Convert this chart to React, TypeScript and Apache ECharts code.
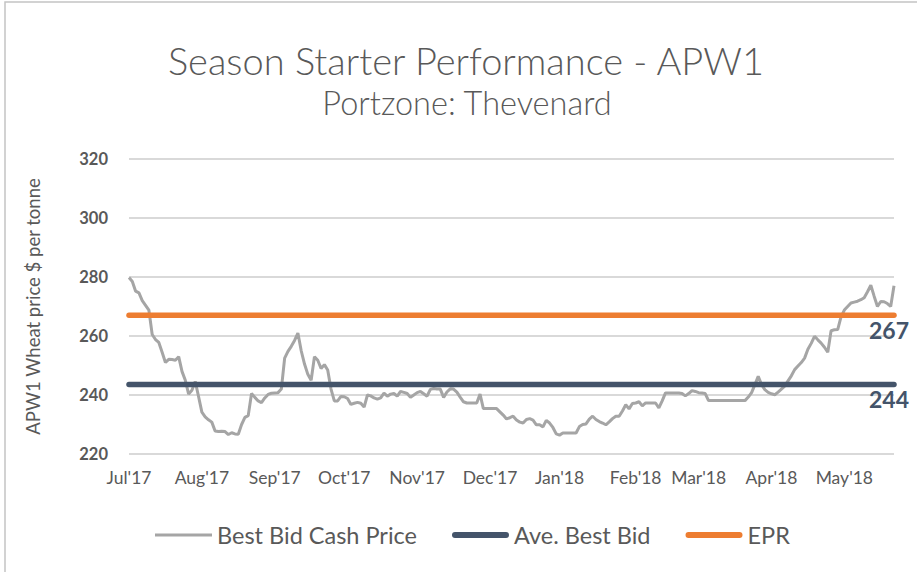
import React, { useEffect, useRef } from "react";
import * as echarts from "echarts";

const titleText = "Season Starter Performance - APW1";
const subtitleText = "Portzone: Thevenard";
const yAxisName = "APW1 Wheat price $ per tonne";

const monthLabels = ["Jul'17", "Aug'17", "Sep'17", "Oct'17", "Nov'17", "Dec'17", "Jan'18", "Feb'18", "Mar'18", "Apr'18", "May'18"];
const monthIndex = [0, 22, 44, 65, 87, 109, 130, 153, 172, 194, 216];

const bestBid = [
  279.8, 278.5, 275.2, 274.6, 272.0, 270.4, 268.8, 260.5, 258.8, 257.8,
  254.5, 251.0, 252.1, 252.0, 251.8, 253.0, 248.0, 245.0, 240.3, 241.6,
  244.6, 239.5, 234.2, 232.6, 231.6, 230.8, 227.8, 227.6, 227.7, 227.6,
  226.6, 227.2, 226.8, 226.7, 230.0, 232.4, 233.0, 240.5, 239.2, 238.0,
  237.4, 239.0, 240.2, 240.6, 240.7, 240.8, 242.0, 252.5, 254.8, 256.5,
  258.5, 261.0, 255.0, 250.5, 247.0, 245.0, 253.0, 251.8, 249.0, 250.3,
  248.5, 242.0, 238.0, 238.0, 239.5, 239.4, 238.8, 236.8, 237.2, 237.5,
  237.2, 235.9, 240.0, 239.7, 239.0, 238.6, 239.0, 240.6, 239.6, 240.3,
  240.5, 239.6, 241.2, 240.9, 240.5, 239.2, 240.0, 240.8, 241.2, 240.4,
  239.6, 241.9, 242.2, 242.0, 242.0, 239.2, 241.0, 242.1, 242.0, 241.0,
  239.3, 237.7, 237.3, 237.3, 237.3, 237.3, 240.3, 235.4, 235.4, 235.4,
  235.4, 235.4, 234.3, 233.2, 231.9, 232.3, 232.8, 231.5, 230.8, 230.5,
  231.7, 232.0, 231.5, 229.9, 229.9, 229.2, 231.4, 230.5, 229.0, 226.8,
  226.4, 227.1, 227.1, 227.1, 227.1, 227.1, 229.3, 230.0, 230.2, 231.8,
  232.8, 231.7, 231.0, 230.5, 229.9, 230.9, 232.0, 232.8, 232.8, 234.6,
  236.7, 235.3, 237.1, 237.3, 237.7, 236.3, 237.3, 237.3, 237.3, 237.3,
  235.6, 238.0, 240.7, 240.7, 240.7, 240.7, 240.7, 240.5, 239.7, 240.5,
  241.5, 241.2, 240.8, 240.7, 240.5, 238.1, 238.1, 238.1, 238.1, 238.1,
  238.1, 238.1, 238.1, 238.1, 238.1, 238.1, 238.1, 239.3, 240.8, 243.5,
  246.3, 243.5, 241.8, 240.9, 240.4, 240.1, 241.0, 242.0, 243.0, 244.8,
  246.5, 248.6, 249.8, 251.0, 252.5, 255.5, 257.5, 259.9, 258.7, 257.6,
  256.2, 254.5, 261.8, 262.1, 262.2, 266.5, 268.8, 270.0, 271.2, 271.5,
  271.8, 272.3, 273.0, 275.0, 277.2, 273.5, 270.0, 271.7, 271.6, 271.0,
  270.0, 277.0,
];

const aveBestBid = 243.6;
const epr = 267;

const yMin = 220;
const yMax = 320;
const yInterval = 20;

const FONT = "Lato";
const TEXT_GREY = "#595959";

const thinIcon = "path://M0,0 H57 V3 H0 Z";
const thickIcon = "path://M3,0 H54 A3,3 0 0 1 54,6 H3 A3,3 0 0 1 3,0 Z";

export default function App() {
  const ref = useRef<HTMLDivElement>(null);

  useEffect(() => {
    if (!ref.current) return;
    const chart = echarts.init(ref.current, undefined, { renderer: "svg" });

    const categories = bestBid.map((_, i) => {
      const k = monthIndex.indexOf(i);
      return k >= 0 ? monthLabels[k] : "";
    });
    const lastIdx = bestBid.length - 1;

    const refLine = (name: string, value: number, color: string) => ({
      name,
      type: "line",
      data: [[0, value], [lastIdx, value]],
      symbol: "none",
      lineStyle: { color, width: 5.5, cap: "round" },
      itemStyle: { color },
      z: 3,
      markPoint: {
        symbol: "circle",
        symbolSize: 0,
        itemStyle: { color: "transparent" },
        data: [{ coord: [lastIdx, value], value }],
        label: {
          show: true,
          position: "bottom",
          distance: 3,
          offset: [-5, 0],
          formatter: (p: any) => String(Math.round(p.value)),
          color: "#44546A",
          fontFamily: FONT,
          fontWeight: "bold",
          fontSize: 23,
        },
      },
    });

    chart.setOption({
      animation: false,
      backgroundColor: "#ffffff",
      graphic: [
        {
          type: "rect",
          shape: { x: 5, y: 2, width: 1000, height: 1000 },
          style: { fill: "none", stroke: "#c4c4c4", lineWidth: 1.5 },
          silent: true,
        },
        {
          type: "text",
          x: 466,
          y: 60,
          style: {
            text: titleText,
            fill: TEXT_GREY,
            fontFamily: FONT,
            fontSize: 38,
            fontWeight: 300,
            align: "center",
            verticalAlign: "middle",
          },
        },
        {
          type: "text",
          x: 467,
          y: 102,
          style: {
            text: subtitleText,
            fill: TEXT_GREY,
            fontFamily: FONT,
            fontSize: 32.5,
            fontWeight: 300,
            align: "center",
            verticalAlign: "middle",
          },
        },
      ],
      grid: { left: 129, right: 23, top: 159, bottom: 118 },
      legend: {
        left: 150,
        top: 518,
        itemWidth: 57,
        itemHeight: 14,
        itemGap: 35,
        textStyle: { color: TEXT_GREY, fontFamily: FONT, fontSize: 23.5 },
        data: [
          { name: "Best Bid Cash Price", icon: thinIcon },
          { name: "Ave. Best Bid", icon: thickIcon },
          { name: "EPR", icon: thickIcon },
        ],
      },
      xAxis: {
        type: "category",
        data: categories,
        boundaryGap: false,
        axisLine: { show: false },
        axisTick: { show: false },
        axisLabel: {
          interval: 0,
          margin: 14,
          color: TEXT_GREY,
          fontFamily: FONT,
          fontSize: 17.5,
        },
        splitLine: { show: false },
      },
      yAxis: {
        type: "value",
        min: yMin,
        max: yMax,
        interval: yInterval,
        name: yAxisName,
        nameLocation: "middle",
        nameGap: 87,
        nameTextStyle: { color: TEXT_GREY, fontFamily: FONT, fontSize: 18.5 },
        axisLine: { show: false },
        axisTick: { show: false },
        axisLabel: {
          margin: 21,
          color: TEXT_GREY,
          fontFamily: FONT,
          fontWeight: "bold",
          fontSize: 16.5,
        },
        splitLine: { lineStyle: { color: "#d9d9d9", width: 2 } },
      },
      series: [
        {
          name: "Best Bid Cash Price",
          type: "line",
          data: bestBid,
          symbol: "none",
          lineStyle: { color: "#A5A5A5", width: 3 },
          itemStyle: { color: "#A5A5A5" },
          z: 2,
        },
        refLine("Ave. Best Bid", aveBestBid, "#44546A"),
        refLine("EPR", epr, "#ED7D31"),
      ],
    });

    return () => chart.dispose();
  }, []);

  return (
    <div
      ref={ref}
      style={{ position: "fixed", left: 0, top: 0, width: 917, height: 572, background: "#fff" }}
    />
  );
}
